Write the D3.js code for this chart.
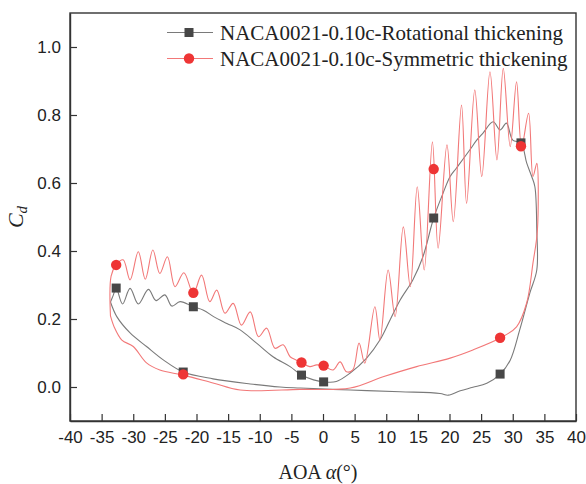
<!DOCTYPE html>
<html><head><meta charset="utf-8">
<script src="https://cdn.jsdelivr.net/npm/d3@7"></script>
<style>body{margin:0;background:#fff}svg{display:block}</style>
</head><body>
<svg id="c" width="586" height="484"></svg>
<script>
// ---- data ----
const xTicks = [-40,-35,-30,-25,-20,-15,-10,-5,0,5,10,15,20,25,30,35,40];
const yTicks = [0.0,0.2,0.4,0.6,0.8,1.0];
const seriesNames = ["NACA0021-0.10c-Rotational thickening","NACA0021-0.10c-Symmetric thickening"];

// Rotational thickening loop (upper branch left->right, then lower branch right->left)
const rotAoa = [-33.6,-33.2,-32.7,-31.7,-30.5,-29.2,-27.6,-26.4,-25.0,-23.9,-22.6,-20.5,-18.9,-17.3,-15.2,-13.1,-10.5,-7.9,-5.2,-3.4,-1.5,0.1,2.1,4.3,6.9,9.0,10.6,12.2,14.2,15.8,17.5,19.0,20.1,21.1,23.2,24.3,25.3,26.9,28.0,29.0,30.0,31.3,32.2,33.0,33.5,33.8,33.8,
  32.7,31.1,29.6,28.0,25.9,23.7,21.7,19.8,18.5,12.2,4.3,-3.6,-6.8,-11.5,-17.4,-22.1,-25.2,-27.9,-30.5,-32.6,-33.6];
const rotCd = [0.250,0.268,0.291,0.244,0.290,0.244,0.287,0.254,0.271,0.238,0.251,0.236,0.226,0.207,0.187,0.168,0.129,0.089,0.060,0.035,0.021,0.015,0.016,0.041,0.085,0.138,0.197,0.256,0.315,0.383,0.497,0.571,0.619,0.644,0.697,0.726,0.747,0.780,0.756,0.776,0.726,0.718,0.659,0.619,0.589,0.462,0.344,
  0.276,0.168,0.079,0.038,0.011,-0.001,-0.011,-0.024,-0.019,-0.014,-0.009,-0.003,0.000,0.009,0.024,0.044,0.079,0.119,0.159,0.207,0.250];

// Symmetric thickening loop
const symAoa = [-33.6,-33.5,-32.7,-31.6,-30.5,-29.2,-28.1,-26.9,-25.8,-24.6,-23.4,-22.0,-20.5,-19.2,-17.9,-16.8,-15.5,-14.2,-12.9,-11.5,-10.2,-8.9,-7.6,-6.3,-5.2,-4.2,-3.4,-2.1,-1.0,0.1,1.6,2.7,3.7,4.7,5.7,6.6,8.2,9.0,10.3,11.4,12.7,13.8,14.9,16.0,17.3,18.2,19.6,20.6,21.9,22.7,24.0,25.1,26.4,27.5,28.5,29.6,30.6,31.4,32.5,33.2,33.8,33.9,
  33.2,32.2,30.6,28.0,23.7,20.1,14.8,9.5,4.3,-3.6,-13.1,-17.4,-22.1,-25.8,-27.9,-30.0,-31.8,-33.0,-33.6];
const symCd = [0.209,0.326,0.359,0.374,0.315,0.398,0.317,0.403,0.334,0.383,0.295,0.336,0.276,0.329,0.251,0.285,0.217,0.246,0.182,0.221,0.148,0.173,0.114,0.124,0.089,0.079,0.072,0.060,0.065,0.062,0.050,0.074,0.045,0.050,0.129,0.070,0.236,0.138,0.344,0.207,0.471,0.295,0.589,0.344,0.721,0.408,0.712,0.486,0.829,0.540,0.874,0.619,0.927,0.668,0.937,0.707,0.898,0.706,0.805,0.619,0.658,0.462,
  0.365,0.247,0.177,0.144,0.109,0.085,0.060,0.030,-0.003,-0.007,-0.009,0.012,0.035,0.050,0.071,0.119,0.138,0.176,0.209];

// marker points
const rotMarkAoa = [-32.7,-20.5,-22.1,-3.4,0.1,17.5,28.0,31.3];
const rotMarkCd  = [0.291,0.236,0.044,0.035,0.015,0.497,0.038,0.718];
const symMarkAoa = [-32.7,-20.5,-22.1,-3.4,0.1,17.5,28.0,31.3];
const symMarkCd  = [0.359,0.277,0.037,0.072,0.063,0.641,0.145,0.708];

// ---- drawing ----
const svg = d3.select("#c");
const L=70,R=576,T=13,B=421;
const x = d3.scaleLinear().domain([-40,40]).range([L,R]);
const y = d3.scaleLinear().domain([-0.1,1.1]).range([B,T]);
const axisCol = "#333";

const line = d3.line().x(d=>x(d[0])).y(d=>y(d[1])).curve(d3.curveCatmullRom.alpha(0.5));
const rotPts = rotAoa.map((a,i)=>[a,rotCd[i]]);
const symPts = symAoa.map((a,i)=>[a,symCd[i]]);

svg.append("path").attr("d",line(rotPts)).attr("fill","none").attr("stroke","#7a7a7a").attr("stroke-width",1.1);
svg.append("path").attr("d",line(symPts)).attr("fill","none").attr("stroke","#f27878").attr("stroke-width",1.1);

svg.selectAll(".sq").data(rotMarkAoa.map((a,i)=>[a,rotMarkCd[i]])).enter().append("rect")
  .attr("x",d=>x(d[0])-4.5).attr("y",d=>y(d[1])-4.5).attr("width",9).attr("height",9).attr("fill","#474747");
svg.selectAll(".ci").data(symMarkAoa.map((a,i)=>[a,symMarkCd[i]])).enter().append("circle")
  .attr("cx",d=>x(d[0])).attr("cy",d=>y(d[1])).attr("r",5.2).attr("fill","#ee3535");

// frame
svg.append("rect").attr("x",L).attr("y",T).attr("width",R-L).attr("height",B-T).attr("fill","none").attr("stroke",axisCol).attr("stroke-width",1.4);

// axes
const hyph = f => (d => f(d).replace("\u2212","-"));
const xAxis = d3.axisBottom(x).tickValues(xTicks).tickSizeInner(-7).tickSizeOuter(0).tickPadding(10).tickFormat(hyph(d3.format("d")));
const gx = svg.append("g").attr("transform",`translate(0,${B})`).call(xAxis);
gx.select(".domain").attr("stroke",axisCol).attr("stroke-width",1.4);
gx.selectAll(".tick line").attr("stroke",axisCol).attr("stroke-width",1.2);
gx.selectAll("text").attr("font-family","Liberation Sans, Arial, sans-serif").attr("font-size",17).attr("fill","#222");

const yAxis = d3.axisLeft(y).tickValues(yTicks).tickSizeInner(-7).tickSizeOuter(0).tickPadding(9).tickFormat(hyph(d3.format(".1f")));
const gy = svg.append("g").attr("transform",`translate(${L},0)`).call(yAxis);
gy.select(".domain").attr("stroke",axisCol).attr("stroke-width",1.4);
gy.selectAll(".tick line").attr("stroke",axisCol).attr("stroke-width",1.2);
gy.selectAll("text").attr("font-family","Liberation Sans, Arial, sans-serif").attr("font-size",17).attr("fill","#222");

// axis titles
const xt = svg.append("text").attr("x",318).attr("y",479).attr("text-anchor","middle")
  .attr("font-family","Liberation Serif, Times New Roman, serif").attr("font-size",20).attr("fill","#222");
xt.append("tspan").text("AOA ");
xt.append("tspan").attr("font-style","italic").text("α");
xt.append("tspan").text("(°)");

const yt = svg.append("text").attr("transform","translate(23,217) rotate(-90)").attr("text-anchor","middle")
  .attr("font-family","Liberation Serif, Times New Roman, serif").attr("font-size",22).attr("fill","#222").attr("font-style","italic");
yt.append("tspan").text("C");
yt.append("tspan").attr("font-size",15).attr("dy",4).text("d");

// legend
const leg = svg.append("g");
const legRows = [{y:32.5,col:"#7a7a7a",mk:"sq"},{y:58.5,col:"#f27878",mk:"ci"}];
legRows.forEach((r,i)=>{
  leg.append("line").attr("x1",167).attr("x2",213).attr("y1",r.y).attr("y2",r.y).attr("stroke",r.col).attr("stroke-width",1.1);
  if(r.mk==="sq") leg.append("rect").attr("x",189-4.5).attr("y",r.y-4.5).attr("width",9).attr("height",9).attr("fill","#474747");
  else leg.append("circle").attr("cx",189).attr("cy",r.y).attr("r",5.2).attr("fill","#ee3535");
  leg.append("text").attr("x",220).attr("y",r.y+7).attr("font-family","Liberation Serif, Times New Roman, serif")
    .attr("font-size",21).attr("fill","#222").text(seriesNames[i]);
});
</script>
</body></html>
